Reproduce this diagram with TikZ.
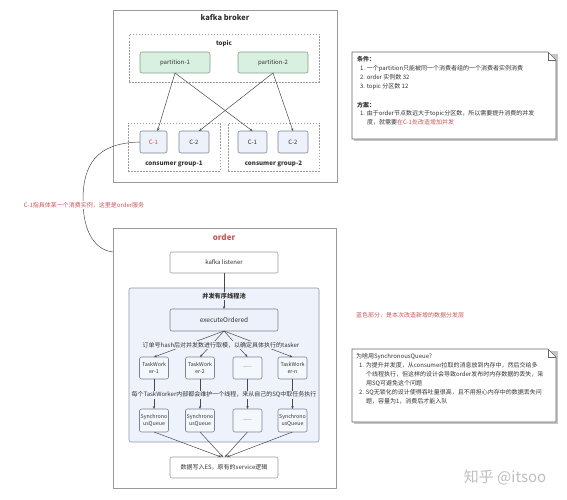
\documentclass[tikz,border=0pt]{standalone}
\usepackage{fontspec}
\setmainfont{Noto Sans CJK SC}
\usetikzlibrary{arrows.meta}
\definecolor{frameC}{HTML}{9A9A9A}
\definecolor{partFill}{HTML}{D8F0DF}
\definecolor{partDraw}{HTML}{889A8C}
\definecolor{cFill}{HTML}{EDF1F9}
\definecolor{cDraw}{HTML}{7A8494}
\definecolor{poolFill}{HTML}{EEF3FB}
\definecolor{poolDraw}{HTML}{8C96A6}
\definecolor{redT}{HTML}{C8585A}
\definecolor{lineC}{HTML}{4A4A4A}
\definecolor{txt}{HTML}{333333}
\begin{document}
\begin{tikzpicture}[x=1pt,y=-1pt,
  every node/.style={inner sep=0pt, outer sep=0pt, text=txt},
  frame/.style={draw=frameC, line width=0.8pt, fill=white},
  dashbox/.style={draw=frameC, line width=0.6pt, dash pattern=on 1.5pt off 1.5pt},
  part/.style={draw=partDraw, fill=partFill, rounded corners=2pt, line width=0.6pt, font=\fontsize{6}{7}\selectfont},
  cbox/.style={draw=cDraw, fill=cFill, rounded corners=2pt, line width=0.6pt, font=\fontsize{6}{7}\selectfont},
  wbox/.style={draw=frameC, fill=white, rounded corners=2pt, line width=0.6pt, font=\fontsize{6}{7}\selectfont},
  tbox/.style={draw=cDraw, fill=cFill!60!white, rounded corners=2pt, line width=0.6pt, align=center, font=\fontsize{5.3}{7}\selectfont, minimum width=29pt},
  small/.style={font=\fontsize{6}{7}\selectfont},
  ttl/.style={font=\fontsize{6.2}{7}\selectfont\bfseries},
  arr/.style={draw=lineC, line width=0.5pt, -{Stealth[length=3pt,width=2.4pt]}},
  notetext/.style={anchor=north west, align=left, font=\fontsize{6}{9}\selectfont},
]
\useasboundingbox (0,0) rectangle (567,500);
\fill[white] (0,0) rectangle (567,500);

% ---------------- kafka broker ----------------
\node[frame, minimum width=224pt, minimum height=172pt] (broker) at (225,96) {};
\node[font=\fontsize{7.5}{8}\selectfont\bfseries] (brokerT) at (225,18) {kafka broker};
\node[dashbox, minimum width=190pt, minimum height=48pt] (topic) at (224,58) {};
\node[ttl] (topicT) at (224,44) {topic};
\node[part, minimum width=70pt, minimum height=21pt] (p1) at (175,62.5) {partition-1};
\node[part, minimum width=70pt, minimum height=21pt] (p2) at (273,62.5) {partition-2};

\node[dashbox, minimum width=92pt, minimum height=48pt] (g1) at (174,147) {};
\node[dashbox, minimum width=91pt, minimum height=48pt] (g2) at (273.5,147) {};
\node[cbox, minimum width=27pt, minimum height=22pt, text=redT] (c11) at (153.5,142) {C-1};
\node[cbox, minimum width=30pt, minimum height=22pt] (c12) at (194,142) {C-2};
\node[cbox, minimum width=29pt, minimum height=22pt] (c21) at (252.5,142) {C-1};
\node[cbox, minimum width=30pt, minimum height=22pt] (c22) at (293,142) {C-2};
\node[ttl] (g1T) at (174,164) {consumer group-1};
\node[ttl] (g2T) at (273.5,164) {consumer group-2};

\draw[arr] (p1.south) -- ([xshift=4pt]c11.north);
\draw[arr] (p1.south) -- (c21.north);
\draw[arr] (p2.south) -- ([xshift=5pt]c12.north);
\draw[arr] (p2.south) -- (c22.north);

% ---------------- note 1 ----------------
\fill[gray!45] (354,54) -- (558,54) -- (558,141) -- (354,141) -- cycle;
\draw[draw=gray!80!black, line width=0.6pt, fill=white] (352,52) -- (548,52) -- (556,60) -- (556,139) -- (352,139) -- cycle;
\draw[draw=gray!80!black, line width=0.6pt] (548,52) -- (548,60) -- (556,60);
\node[notetext] (note1) at (357,56) {%
\textbf{条件：}\\
\hspace*{3pt}1. 一个partition只能被同一个消费者组的一个消费者实例消费\\
\hspace*{3pt}2. order 实例数 32\\
\hspace*{3pt}3. topic 分区数 12\\[10pt]
\textbf{方案：}\\[-1pt]
\hspace*{3pt}1. 由于order节点数远大于topic分区数，所以需要提升消费的并发\\
\hspace*{10pt}度，就需要\textcolor{redT}{在C-1处改造增加并发}};

% ---------------- order ----------------
\node[frame, minimum width=223pt, minimum height=260pt] (order) at (224.5,358) {};
\node[font=\fontsize{8}{9}\selectfont\bfseries, text=redT] (orderT) at (224,237) {order};
\node[wbox, minimum width=108pt, minimum height=21pt] (kl) at (224,262.5) {kafka listener};
\node[draw=poolDraw, fill=poolFill, line width=0.6pt, rounded corners=2pt, minimum width=190pt, minimum height=154pt] (pool) at (224,365) {};
\node[cbox, minimum width=108pt, minimum height=22pt, font=\fontsize{6.5}{7}\selectfont] (eo) at (224,320) {executeOrdered};
\draw[arr] (kl.south) -- (eo.north);
\node[ttl, fill=poolFill, inner sep=1pt] (poolT) at (224,296) {并发有序线程池};

\node[tbox, minimum height=22pt] (tw1) at (154,368) {TaskWork\\er-1};
\node[tbox, minimum height=22pt] (tw2) at (200,368) {TaskWork\\er-2};
\node[tbox, minimum height=22pt, text=gray] (tw3) at (247.5,368) {——};
\node[tbox, minimum height=22pt] (tw4) at (292.5,368) {TaskWork\\er-n};

\node[tbox, minimum height=23pt] (sq1) at (154,420.5) {Synchrono\\usQueue};
\node[tbox, minimum height=23pt] (sq2) at (200,420.5) {Synchrono\\usQueue};
\node[tbox, minimum height=23pt, text=gray] (sq3) at (247.5,420.5) {——};
\node[tbox, minimum height=23pt] (sq4) at (292.5,420.5) {Synchrono\\usQueue};

\foreach \i in {1,2,3,4} {
  \draw[arr] (eo.south) -- (tw\i.north);
  \draw[arr] (tw\i.south) -- (sq\i.north);
}
\node[small, fill=poolFill, inner sep=1pt] (hashT) at (221,345) {订单号hash后对并发数进行取模，以确定具体执行的tasker};
\node[small, fill=poolFill, inner sep=1pt] (workT) at (224,395) {每个TaskWorker内部都会维护一个线程，来从自己的SQ中取任务执行};

\node[wbox, minimum width=108pt, minimum height=21pt] (fin) at (224,467.5) {数据写入ES，原有的service逻辑};
\draw[arr] (sq1.south) -- ([xshift=-3pt]fin.north);
\draw[arr] (sq2.south) -- ([xshift=-1pt]fin.north);
\draw[arr] (sq3.south) -- ([xshift=1pt]fin.north);
\draw[arr] (sq4.south) -- ([xshift=3pt]fin.north);

% ---------------- left curve + label ----------------
\coordinate (curveEnd) at (113,252);
\draw[draw=lineC, line width=0.5pt] (c11.west) .. controls (96,143) and (83,165) .. (83,200) .. controls (83,232) and (95,250) .. (curveEnd);
\node[small, fill=white, inner sep=1pt, text=redT] (c1label) at (84,205) {C-1指具体某一个消费实例，这里是order服务};

% ---------------- middle red text ----------------
\node[small, text=redT] (blueT) at (410,315) {蓝色部分，是本次改造新增的数据分发层};

% ---------------- note 2 ----------------
\fill[gray!45] (354,351) -- (558,351) -- (558,424) -- (354,424) -- cycle;
\draw[draw=gray!80!black, line width=0.6pt, fill=white] (352,349) -- (548,349) -- (556,357) -- (556,422) -- (352,422) -- cycle;
\draw[draw=gray!80!black, line width=0.6pt] (548,349) -- (548,357) -- (556,357);
\node[notetext] (note2) at (356,353) {%
为啥用SynchronousQueue?\\
\hspace*{3pt}1. 为提升并发度，从consumer拉取的消息放到内存中，然后交给多\\
\hspace*{10pt}个线程执行，但这样的设计会导致order发布时内存数据的丢失，采\\
\hspace*{10pt}用SQ可避免这个问题\\
\hspace*{3pt}2. SQ无锁化的设计使得吞吐量很高，且不用担心内存中的数据丢失问\\
\hspace*{10pt}题，容量为1，消费后才能入队};

% ---------------- watermark ----------------
\node[font=\fontsize{15}{16}\selectfont, text=gray!50] (wm) at (505,477) {知乎 @itsoo};
\end{tikzpicture}
\end{document}
